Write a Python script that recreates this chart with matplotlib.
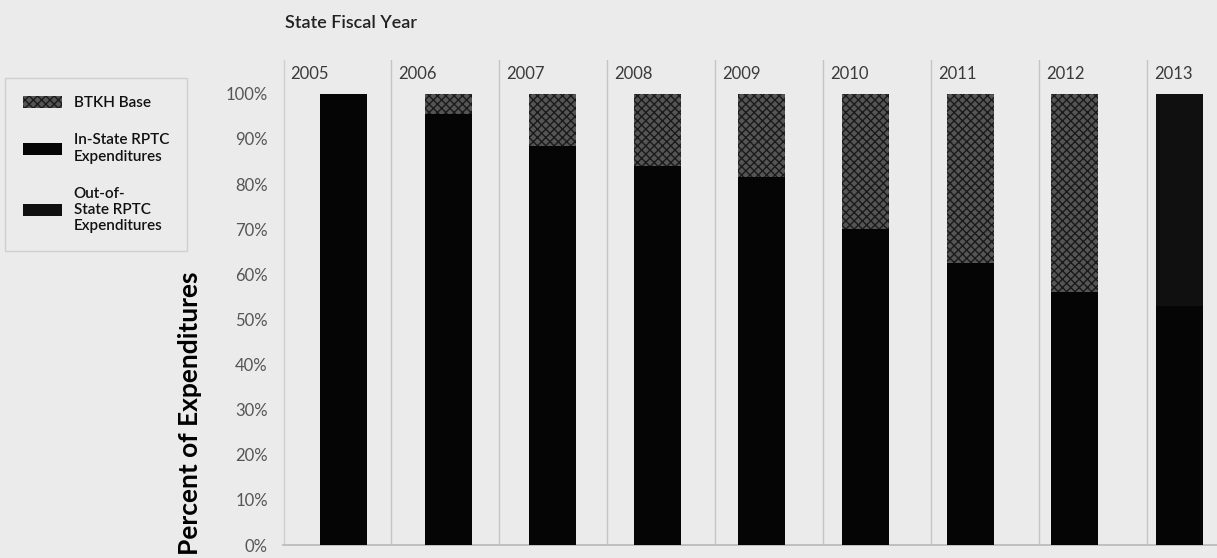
import matplotlib
matplotlib.use("Agg")
import matplotlib.pyplot as plt
import numpy as np
from matplotlib.patches import Patch

plt.rcParams["font.family"] = ["Lato", "DejaVu Sans"]

# ---------- Data (share of expenditures, %) ----------
YEARS = ["2005", "2006", "2007", "2008", "2009", "2010", "2011", "2012", "2013"]
IN_STATE = [100, 95.5, 88.5, 84, 81.5, 70, 62.5, 56, 53]
BTKH_BASE = [0, 4.5, 11.5, 16, 18.5, 30, 37.5, 44, 0]
OUT_OF_STATE = [0, 0, 0, 0, 0, 0, 0, 0, 47]
Y_TICKS = list(range(0, 101, 10))

BG = "#ebebeb"
C_IN = "#050505"
C_OUT = "#101010"
C_BTKH = "#555555"

fig = plt.figure(figsize=(12.17, 5.58), dpi=100, facecolor=BG)
ax = fig.add_axes([283 / 1217, 13 / 558, 934 / 1217, 485 / 558])
ax.set_facecolor(BG)

x = np.arange(len(YEARS))
width = 0.45
ax.bar(x, IN_STATE, width, color=C_IN, linewidth=0, zorder=3)
ax.bar(x, BTKH_BASE, width, bottom=IN_STATE, color=C_BTKH,
       hatch="xxxx", edgecolor="#1a1a1a", linewidth=0, zorder=3)
ax.bar(x, OUT_OF_STATE, width, bottom=IN_STATE, color=C_OUT,
       linewidth=0, zorder=3)

ax.set_xlim(-0.58, 8.36)
ax.set_ylim(0, 107.5)

# panel dividers with the year written just right of each
panel_w = 1.034
for k, yr in enumerate(YEARS):
    edge = -0.58 + k * panel_w
    if k > 0:
        ax.axvline(edge, color="#c4c4c4", lw=1.0, zorder=1)
    ax.text(edge + 0.07, 104.3, yr, fontsize=12, color="#3a3a3a",
            ha="left", va="center")
ax.axvline(-0.575, color="#d0d0d0", lw=1.0, zorder=1)

ax.set_yticks(Y_TICKS)
ax.set_yticklabels([f"{v}%" for v in Y_TICKS], fontsize=12, color="#555555")
ax.tick_params(axis="y", length=0, pad=11)
ax.set_xticks([])
for s in ("top", "right", "left"):
    ax.spines[s].set_visible(False)
ax.spines["bottom"].set_color("#b8b8b8")
ax.spines["bottom"].set_linewidth(1.2)

fig.text(285 / 1217, 1 - 23 / 558, "State Fiscal Year", fontsize=13,
         fontweight="semibold", color="#222222", ha="left", va="center")
fig.text(190 / 1217, 1 - 413 / 558, "Percent of Expenditures", fontsize=19,
         fontweight="bold", rotation=90, ha="center", va="center")

handles = [
    Patch(facecolor=C_BTKH, hatch="xxxx", edgecolor="#1a1a1a", linewidth=0),
    Patch(facecolor=C_IN, linewidth=0),
    Patch(facecolor=C_OUT, linewidth=0),
]
labels = ["BTKH Base", "In-State RPTC\nExpenditures",
          "Out-of-\nState RPTC\nExpenditures"]
leg = fig.legend(handles, labels, loc="upper left",
                 bbox_to_anchor=(5 / 1217, 1 - 78 / 558),
                 frameon=True, fancybox=False, facecolor=BG,
                 edgecolor="#c8c8c8", fontsize=11, handlelength=2.5,
                 handleheight=0.8, labelspacing=1.5, borderpad=1.2,
                 handletextpad=0.8, borderaxespad=0)
for t in leg.get_texts():
    t.set_fontweight("semibold")
    t.set_color("#111111")

fig.savefig("out.png", dpi=100, facecolor=BG)
